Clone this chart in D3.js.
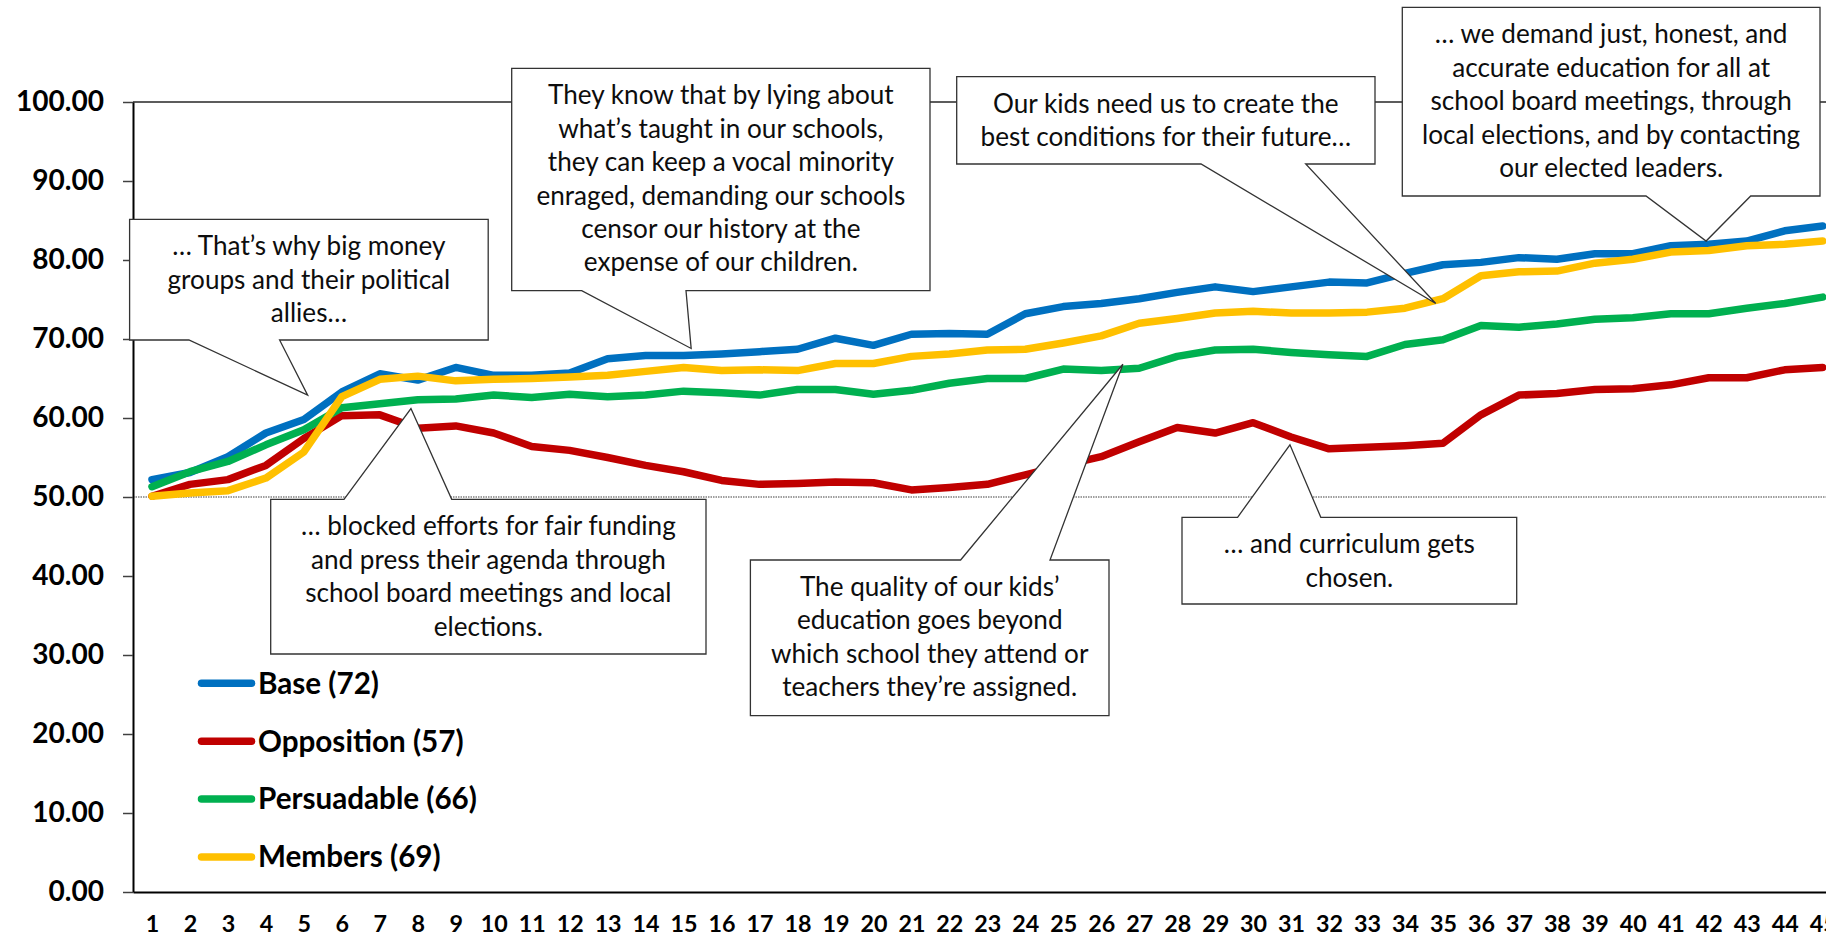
<!DOCTYPE html>
<html><head><meta charset="utf-8">
<script src="https://cdn.jsdelivr.net/npm/d3@7"></script>
<style>html,body{margin:0;padding:0;background:#fff;overflow:hidden}</style>
</head><body>
<svg id="c" width="1826" height="937"></svg>
<script>
// ---------------- data ----------------
const categories = ["1","2","3","4","5","6","7","8","9","10","11","12","13","14","15","16","17","18","19","20","21","22","23","24","25","26","27","28","29","30","31","32","33","34","35","36","37","38","39","40","41","42","43","44","45"];
const base        = [52.2,53.1,55.1,58.1,59.8,63.3,65.6,64.8,66.4,65.4,65.4,65.7,67.5,67.9,67.9,68.1,68.4,68.7,70.1,69.2,70.6,70.7,70.6,73.2,74.1,74.5,75.1,75.9,76.6,76.0,76.6,77.2,77.1,78.3,79.4,79.7,80.3,80.1,80.8,80.8,81.8,82.0,82.4,83.7,84.3];
const opposition  = [50.1,51.6,52.2,54.0,57.4,60.3,60.4,58.7,59.0,58.1,56.4,55.9,55.0,54.0,53.2,52.1,51.6,51.7,51.9,51.8,50.9,51.2,51.6,52.8,54.0,55.1,57.0,58.8,58.1,59.4,57.6,56.1,56.3,56.5,56.8,60.4,62.9,63.1,63.6,63.7,64.2,65.1,65.1,66.1,66.4];
const persuadable = [51.3,53.2,54.5,56.6,58.5,61.3,61.8,62.3,62.4,62.9,62.6,63.0,62.7,62.9,63.4,63.2,62.9,63.6,63.6,63.0,63.5,64.4,65.0,65.0,66.2,66.0,66.3,67.8,68.6,68.7,68.3,68.0,67.8,69.3,69.9,71.7,71.5,71.9,72.5,72.7,73.2,73.2,73.9,74.5,75.3];
const members     = [50.1,50.5,50.8,52.4,55.7,62.7,64.9,65.3,64.7,64.9,65.0,65.2,65.4,65.9,66.4,66.0,66.1,66.0,66.9,66.9,67.8,68.1,68.6,68.7,69.5,70.4,72.0,72.6,73.3,73.5,73.3,73.3,73.4,73.9,75.1,78.0,78.5,78.6,79.6,80.1,81.0,81.2,81.8,82.0,82.4];
const seriesNames = ["Base (72)","Opposition (57)","Persuadable (66)","Members (69)"];
const yTicks = [0,10,20,30,40,50,60,70,80,90,100];
const referenceValue = 50;

const calloutTexts = [
  ["… That’s why big money","groups and their political","allies…"],
  ["They know that by lying about","what’s taught in our schools,","they can keep a vocal minority","enraged, demanding our schools","censor our history at the","expense of our children."],
  ["Our kids need us to create the","best conditions for their future…"],
  ["… we demand just, honest, and","accurate education for all at","school board meetings, through","local elections, and by contacting","our elected leaders."],
  ["… blocked efforts for fair funding","and press their agenda through","school board meetings and local","elections."],
  ["The quality of our kids’","education goes beyond","which school they attend or","teachers they’re assigned."],
  ["… and curriculum gets","chosen."]
];
// where each callout points: [category position, value]
const calloutTargets = [[5.10,62.9],[15.2,68.8],[34.81,74.5],[41.93,82.4],[7.82,61.2],[26.57,66.8],[30.97,56.6]];

// ---------------- layout / style ----------------
const seriesColors = ["#0070C0","#C00000","#00B050","#FFC000"];
const calloutBoxes = [ // [x0,y0,x1,y1, wedgeBaseA, wedgeBaseB]
  [129.6,219.3,488.2,340, 188.9,279.6],
  [511.7,68.3,930,290.7, 581.7,686],
  [956.7,76.7,1375,164, 1201,1305.7],
  [1402.3,7.3,1820,196, 1646,1750.7],
  [270.7,499.3,706,654, 344,451.7],
  [750.4,560,1109,715.7, 960.6,1050],
  [1182,517.3,1516.7,604, 1237.6,1320.8]
];
const FONT = "Lato, 'Open Sans', 'Liberation Sans', sans-serif";
const svg = d3.select("#c");

function fit(sample, weight, target){
  const t = svg.append("text").attr("font-family",FONT).attr("font-weight",weight).attr("font-size",100).text(sample);
  const w = t.node().getComputedTextLength(); t.remove();
  return 100*target/w;
}
const labelSize = fit("100.00","bold",88);
const legendSize = fit("Base (72)","bold",121);
const xLabelSize = labelSize*0.83;
const calloutSize = fit("enraged, demanding our schools","normal",369);

const plot = {left:133, top:102, bottom:892, right:133+45*37.97};
const x = d3.scaleLinear().domain([0.5, categories.length+0.5]).range([plot.left, plot.right]);
const y = d3.scaleLinear().domain([0,100]).range([plot.bottom, plot.top]);

// top border
svg.append("line").attr("x1",plot.left).attr("x2",plot.right).attr("y1",plot.top).attr("y2",plot.top)
  .attr("stroke","#262626").attr("stroke-width",1.5);

// reference dotted line
svg.append("line").attr("x1",plot.left).attr("x2",plot.right)
  .attr("y1",y(referenceValue)).attr("y2",y(referenceValue))
  .attr("stroke","#808080").attr("stroke-width",1.5).attr("stroke-dasharray","1.5 1");

// series
const allSeries = [base, opposition, persuadable, members];
const line = d3.line().x((d,i)=>x(i+1)).y(d=>y(d));
allSeries.forEach((s,k)=>{
  svg.append("path").datum(s).attr("d",line).attr("fill","none")
    .attr("stroke",seriesColors[k]).attr("stroke-width",7.5)
    .attr("stroke-linejoin","round").attr("stroke-linecap","round");
});

// y axis
const yAxis = svg.append("g").attr("transform",`translate(${plot.left},0)`)
  .call(d3.axisLeft(y).tickValues(yTicks).tickFormat(d3.format(".2f")).tickSize(10).tickSizeOuter(0).tickPadding(19));
yAxis.select(".domain").attr("stroke","#000").attr("stroke-width",2);
yAxis.selectAll(".tick line").attr("stroke","#404040").attr("stroke-width",1.5);
yAxis.selectAll(".tick text").attr("font-family",FONT).attr("font-weight","bold")
  .attr("font-size",labelSize).attr("fill","#000");

// x axis
const xAxis = svg.append("g").attr("transform",`translate(0,${plot.bottom})`)
  .call(d3.axisBottom(x).tickValues(categories.map((c,i)=>i+1)).tickFormat(i=>categories[i-1]).tickSize(0).tickSizeOuter(0).tickPadding(23));
xAxis.select(".domain").attr("stroke","#000").attr("stroke-width",2.2);
xAxis.selectAll(".tick text").attr("font-family",FONT).attr("font-weight","bold")
  .attr("font-size",xLabelSize).attr("fill","#000");

// legend
const legendY0 = 683.3, legendStep = 57.9;
seriesNames.forEach((n,k)=>{
  const ly = legendY0 + k*legendStep;
  svg.append("line").attr("x1",201.5).attr("x2",251.5).attr("y1",ly).attr("y2",ly)
    .attr("stroke",seriesColors[k]).attr("stroke-width",7.5).attr("stroke-linecap","round");
  svg.append("text").attr("x",258).attr("y",ly).attr("dy","0.35em")
    .attr("font-family",FONT).attr("font-weight","bold").attr("font-size",legendSize)
    .attr("fill","#000").text(n);
});

// callouts
calloutTexts.forEach((lines,k)=>{
  const [x0,y0,x1,y1,bA,bB] = calloutBoxes[k];
  const tx = x(calloutTargets[k][0]), ty = y(calloutTargets[k][1]);
  let d;
  if (ty > y1) d = `M${x0},${y0}H${x1}V${y1}H${bB}L${tx},${ty}L${bA},${y1}H${x0}Z`;
  else d = `M${x0},${y0}H${bA}L${tx},${ty}L${bB},${y0}H${x1}V${y1}H${x0}Z`;
  svg.append("path").attr("d",d).attr("fill","#fff").attr("stroke","#333").attr("stroke-width",1.3)
    .attr("stroke-linejoin","miter");
  const cx = (x0+x1)/2;
  lines.forEach((t,j)=>{
    svg.append("text").attr("x",cx).attr("y",y0+36+j*33.4).attr("text-anchor","middle")
      .attr("font-family",FONT).attr("font-size",calloutSize).attr("fill","#0d0d0d").text(t);
  });
});
</script>
</body></html>
